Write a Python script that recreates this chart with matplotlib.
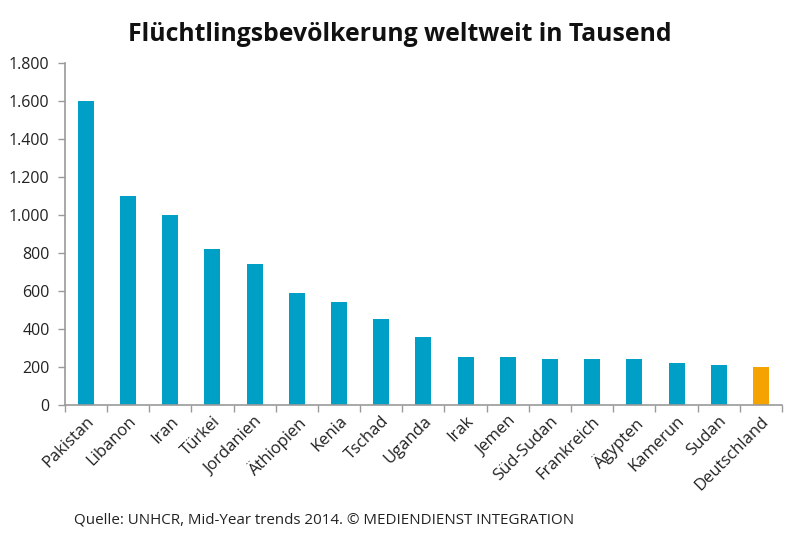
import matplotlib.pyplot as plt
from matplotlib.ticker import FuncFormatter

plt.rcParams['font.family'] = ['Open Sans', 'DejaVu Sans']

laender = ['Pakistan', 'Libanon', 'Iran', 'Türkei', 'Jordanien', 'Äthiopien',
           'Kenia', 'Tschad', 'Uganda', 'Irak', 'Jemen', 'Süd-Sudan',
           'Frankreich', 'Ägypten', 'Kamerun', 'Sudan', 'Deutschland']
fluechtlinge = [1600, 1100, 1000, 820, 740, 590, 540, 450, 360, 250, 250,
                240, 240, 240, 220, 210, 200]

BLUE = '#00A0C6'
ORANGE = '#F5A300'
GREY = '#9A9A9A'

colors = [ORANGE if l == 'Deutschland' else BLUE for l in laender]

fig = plt.figure(figsize=(8, 5.42), dpi=100)
ax = fig.add_axes([0.081, 0.2528, 0.8965, 0.631])

x = range(len(laender))
ax.bar(x, fluechtlinge, width=0.38, color=colors, zorder=2)

ax.set_xlim(-0.5, len(laender) - 0.5)
ax.set_ylim(0, 1800)
ax.set_yticks(range(0, 1801, 200))
ax.yaxis.set_major_formatter(FuncFormatter(lambda v, p: f'{int(v):,}'.replace(',', '.')))

# ticks sit between the categories
ax.set_xticks([i - 0.5 for i in range(len(laender) + 1)], minor=False)
ax.set_xticklabels([])
ax.set_xticks(list(x), minor=True)
ax.set_xticklabels(laender, minor=True, rotation=45, ha='right',
                   rotation_mode='anchor', fontsize=12, color='#222222')
ax.tick_params(axis='x', which='minor', length=0, pad=6)
ax.tick_params(axis='x', which='major', length=5, color=GREY, width=1)
ax.tick_params(axis='y', length=5, color=GREY, width=1, labelsize=11.5,
               labelcolor='#222222', pad=6)

for s in ['top', 'right']:
    ax.spines[s].set_visible(False)
for s in ['left', 'bottom']:
    ax.spines[s].set_color(GREY)
    ax.spines[s].set_linewidth(1.2)

fig.text(0.5, 0.937, 'Flüchtlingsbevölkerung weltweit in Tausend',
         ha='center', va='center', fontsize=17.8, fontweight='bold', color='#111111')
fig.text(0.093, 0.04, 'Quelle: UNHCR, Mid-Year trends 2014. © MEDIENDIENST INTEGRATION',
         ha='left', va='center', fontsize=10.9, color='#222222')

fig.savefig('out.png', dpi=100)
